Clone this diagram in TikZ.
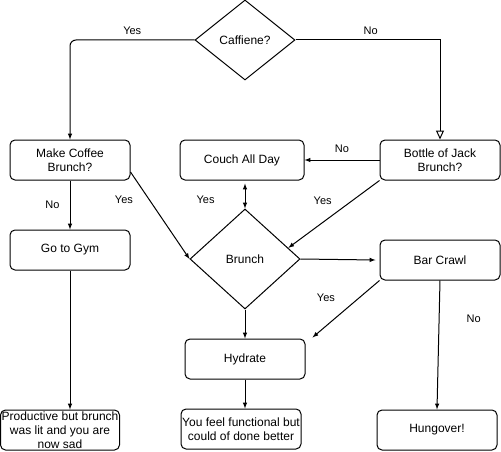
\documentclass[tikz,border=0pt]{standalone}
\usepackage{fontspec}
\setmainfont{Liberation Sans}
\usetikzlibrary{positioning,shapes.geometric,arrows.meta,calc}

\begin{document}
\begin{tikzpicture}[x=1pt,y=-1pt,-latex ,on grid ,line width=1pt,
font=\fontsize{12}{14}\selectfont,
box/.style ={ rectangle ,rounded corners=5pt ,draw ,
minimum width =120pt ,minimum height =40pt ,align=center ,inner sep=0pt},
choice/.style ={ diamond ,draw ,inner sep=0pt},
lbl/.style ={ font=\fontsize{11}{13}\selectfont ,inner sep=2pt}]
\useasboundingbox (0,0) rectangle (501,452);
\node[choice, minimum width=100pt, minimum height=80pt] (Caffiene) at (245,40) {Caffiene?};
\node[box] (MakeCoffee) [below left=120pt and 175pt of Caffiene] {Make Coffee\\Brunch?};
\node[box] (BottleJack) [below right=120pt and 195pt of Caffiene] {Bottle of Jack\\Brunch?};
\node[box, minimum width=124pt] (Couch) [left=198pt of BottleJack] {Couch All Day};
\node[box] (Gym) [below=90pt of MakeCoffee] {Go to Gym};
\node[choice, minimum width=110pt, minimum height=100pt] (Brunch) [below=219pt of Caffiene] {Brunch};
\node[box] (BarCrawl) [below=100pt of BottleJack] {Bar Crawl};
\node[box] (Hydrate) [below=100pt of Brunch] {Hydrate};
\node[box] (Functional) [below left=70pt and 4pt of Hydrate] {You feel functional but\\could of done better};
\node[box, minimum width=119pt] (Productive) [below left=270pt and 10pt of MakeCoffee] {Productive but brunch\\was lit and you are\\now sad};
\node[box] (Hungover) [below left=170pt and 3pt of BarCrawl] {Hungover!};
\coordinate (CouchFoot) at ([yshift=25pt]Brunch.north);

\draw[rounded corners=6pt] (Caffiene.west) -| node[lbl, pos=0.25, above=3pt] {Yes} (MakeCoffee.north);
\draw[-{Triangle[open,length=9pt,width=8pt]}] (Caffiene.east) -| node[lbl, pos=0.26, above=3pt] {No} (BottleJack.north);
\draw (BottleJack.west) -- node[lbl, above=5pt] {No} (Couch.east);
\draw (MakeCoffee) -- node[lbl, left=8pt] {No} (Gym);
\draw ([yshift=-12pt]MakeCoffee.east) -- node[lbl, pos=0.32, left=14pt] {Yes} (Brunch.west);
\draw[latex-latex] (CouchFoot) -- node[lbl, pos=0.65, left=28pt] {Yes} (Brunch.north);
\draw (BottleJack.south west) -- node[lbl, pos=0.3, left=18pt] {Yes} ($(Brunch.north)!0.78!(Brunch.east)$);
\draw (Brunch.east) -- ([xshift=-4pt]BarCrawl.west);
\draw (BarCrawl.south west) -- node[lbl, pos=0.3, left=22pt] {Yes} ([shift={(7pt,1pt)}]Hydrate.north east);
\draw (BarCrawl.south) -- node[lbl, pos=0.3, right=25pt] {No} (Hungover.north);
\draw (Brunch.south) -- (Hydrate.north);
\draw (Hydrate.south) -- (Hydrate.south |- Functional.north);
\draw (Gym.south) -- (Gym.south |- Productive.north);
\end{tikzpicture}
\end{document}
